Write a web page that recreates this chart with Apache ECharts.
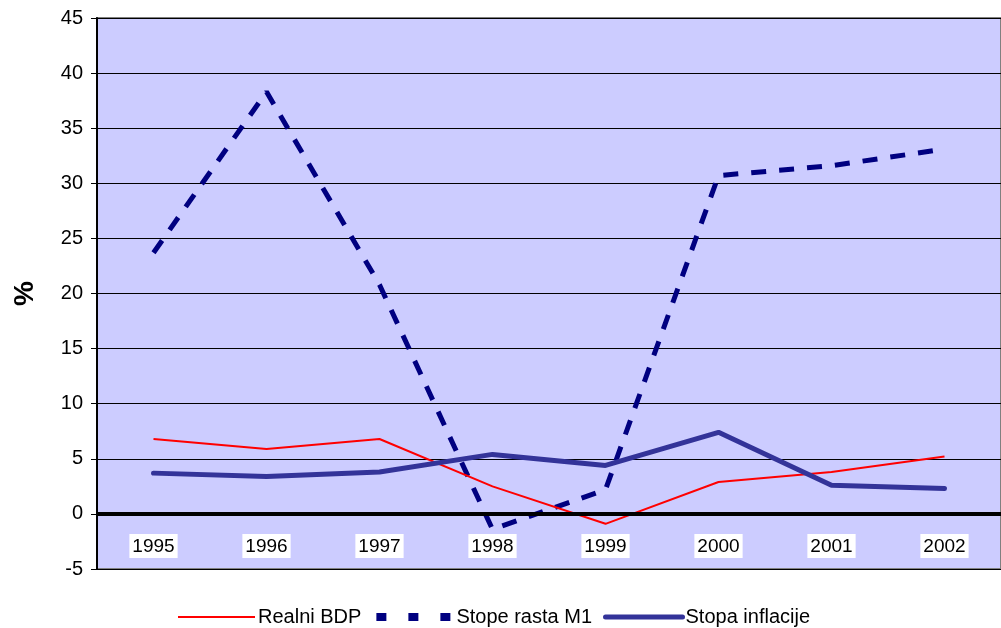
<!DOCTYPE html>
<html><head><meta charset="utf-8">
<script src="https://cdn.jsdelivr.net/npm/echarts@6/dist/echarts.min.js"></script>
<style>html,body{margin:0;padding:0;background:#fff}#c{width:1001px;height:628px}</style>
</head><body><div id="c"></div>
<script>
const categories = ['1995','1996','1997','1998','1999','2000','2001','2002'];
const realniBDP = [6.8, 5.9, 6.8, 2.5, -0.9, 2.9, 3.8, 5.2];
const stopeRastaM1 = [23.7, 38.3, 20.8, -1.4, 2.2, 30.7, 31.6, 33.1];
const stopaInflacije = [3.7, 3.4, 3.8, 5.4, 4.4, 7.4, 2.6, 2.3];
const seriesNames = ['Realni BDP', 'Stope rasta M1', 'Stopa inflacije'];

const chart = echarts.init(document.getElementById('c'));
chart.setOption({
  animation: false,
  textStyle: { fontFamily: 'Liberation Sans, Arial, sans-serif' },
  grid: { left: 97, right: 0, top: 18, bottom: 59, show: true, backgroundColor: '#CCCCFF', borderColor: '#808080', borderWidth: 2 },
  legend: {
    top: 602, left: 172, itemGap: 11, itemWidth: 77, itemHeight: 12,
    itemStyle: { opacity: 0 },
    textStyle: { fontSize: 20, color: '#000', padding: [0,0,0,-2] },
    data: [
      { name: seriesNames[0], lineStyle: { width: 2 } },
      { name: seriesNames[1], lineStyle: { width: 8, type: [10, 22], cap: 'butt' } },
      { name: seriesNames[2], lineStyle: { width: 5, cap: 'round' } }
    ]
  },
  xAxis: {
    type: 'category', data: categories, boundaryGap: true,
    axisLine: { show: false, onZero: false },
    axisTick: { show: false },
    axisLabel: { fontSize: 19, color: '#000', margin: -35, backgroundColor: '#fff', padding: [3, 3, 2, 3] },
    z: 10
  },
  yAxis: {
    type: 'value', min: -5, max: 45, interval: 5,
    name: '%', nameLocation: 'middle', nameGap: 58, nameRotate: 90,
    nameTextStyle: { fontSize: 28, fontWeight: 'bold', color: '#000' },
    axisLine: { show: true, lineStyle: { color: '#000', width: 2 } },
    axisTick: { show: true, length: 6, lineStyle: { color: '#000' } },
    axisLabel: { fontSize: 20, color: '#000', margin: 14 },
    splitLine: { lineStyle: { color: '#000', width: 1 } }
  },
  series: [
    { name: seriesNames[0], type: 'line', data: realniBDP, symbol: 'none', z: 3,
      lineStyle: { color: '#FF0000', width: 2 }, itemStyle: { color: '#FF0000' },
      markLine: { silent: true, symbol: 'none', label: { show: false },
        lineStyle: { color: '#000', width: 4, type: 'solid' }, data: [{ yAxis: 0 }] } },
    { name: seriesNames[1], type: 'line', data: stopeRastaM1, symbol: 'none', z: 2,
      lineStyle: { color: '#000080', width: 5, type: [15, 13] }, itemStyle: { color: '#000080' } },
    { name: seriesNames[2], type: 'line', data: stopaInflacije, symbol: 'none', z: 4,
      lineStyle: { color: '#333399', width: 5, cap: 'round' }, itemStyle: { color: '#333399' } }
  ]
});
</script></body></html>
